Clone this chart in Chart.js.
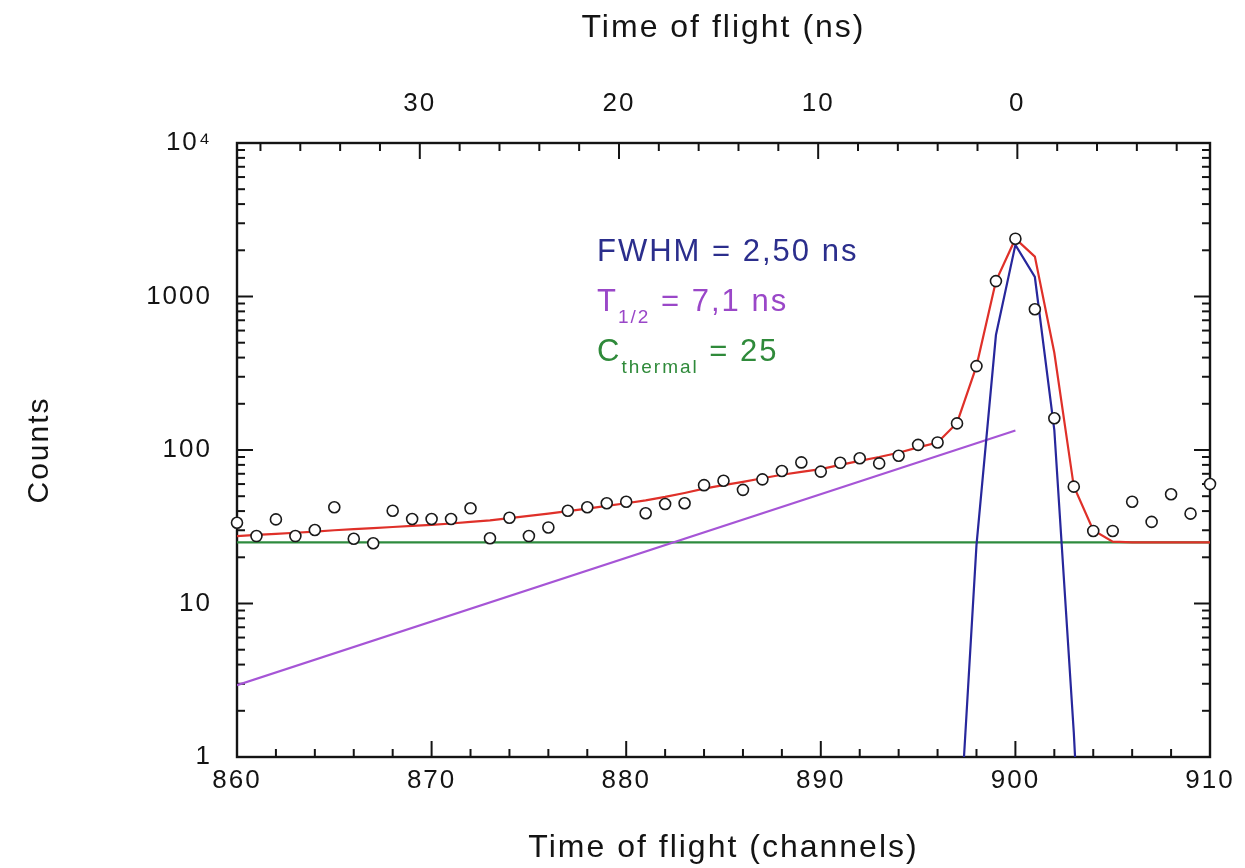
<!DOCTYPE html>
<meta charset="utf8"/>
<style>body{margin:0;background:#fff;}</style>
<canvas id="_c" width="1245" height="868"></canvas>
<script src="https://cdn.jsdelivr.net/npm/chart.js"></script>
<script>
// measured spectrum, one value per channel
const channels = [860,861,862,863,864,865,866,867,868,869,870,871,872,873,874,875,876,877,878,879,880,881,882,883,884,885,886,887,888,889,890,891,892,893,894,895,896,897,898,899,900,901,902,903,904,905,906,907,908,909,910];
const counts = [33.6,27.5,35.3,27.5,30.1,42.4,26.4,24.7,40.2,35.5,35.5,35.5,41.7,26.6,36.2,27.5,31.3,40.2,42.4,45,46,38.7,44.5,45,59,63,55,64.4,73,83,72.3,82.5,88.3,81.8,91.8,108,112,149,352,1260,2380,826,161,57.7,29.7,29.7,46,34,51.5,38.5,60];

// total fit (red), same channels
const fitCounts = [27.5,28,28.4,28.9,29.4,30,30.5,31,31.5,32,32.5,33.2,34,34.8,36,37.2,38.5,40,41.5,43.2,45,47,49.5,52.5,56,59,62,65.5,69,72,75,80,85,90,96,104,112,150,352,1260,2380,1820,430,58,30,25.3,25,25,25,25,25];

// prompt peak (blue)
const gaussChannels = [897,898,899,900,901,902,903,904];
const gaussCounts = [0.17,24,561,2170,1340,135,1.45,0.005];

// delayed exponential component (purple)
const decayChannels = [860,900];
const decayCounts = [2.94,134];

// thermal background (green)
const thermalChannels = [860,910];
const thermalCounts = [25,25];

// axes
const xTicks = [860,870,880,890,900,910];
const nsTicks = [30,20,10,0];
const yTicks = [1,10,100,1000,10000];
const yTickLabels = ['1','10','100','1000','10⁴'];

// channel -> ns calibration of the top axis
const nsPerChannel = 0.977;
const zeroChannel = 900.1;

const FONT = '"Liberation Sans", Arial, Helvetica, sans-serif';
const INK = '#141414';
const TRACK = '2px';
Chart.defaults.font.family = FONT;
Chart.defaults.color = INK;

const pts = (xs, ys) => xs.map((x, i) => ({x, y: ys[i]}));

// wider tracking like the original plot program
const spacing = {
	id: 'spacing',
	beforeUpdate(chart) { chart.ctx.letterSpacing = TRACK; },
	beforeDraw(chart) { chart.ctx.letterSpacing = TRACK; },
};

// frame with inward ticks on all four sides
const frameTicks = {
	id: 'frameTicks',
	beforeDatasetsDraw(chart) {
		const {ctx, chartArea: a, scales: {x, x2, y}} = chart;
		ctx.save();
		ctx.strokeStyle = INK;
		ctx.lineWidth = 2;
		const line = (x0, y0, x1, y1) => { ctx.beginPath(); ctx.moveTo(x0, y0); ctx.lineTo(x1, y1); ctx.stroke(); };
		const BIG = 16, SMALL = 8;
		for (let c = x.min; c <= x.max; c += 2) {
			const px = x.getPixelForValue(c);
			line(px, a.bottom, px, a.bottom - (c % 10 ? SMALL : BIG));
		}
		for (let t = Math.ceil(x2.min / 2) * 2; t <= x2.max; t += 2) {
			const px = x2.getPixelForValue(t);
			line(px, a.top, px, a.top + (t % 10 ? SMALL : BIG));
		}
		for (let d = 1; d < 1e4; d *= 10) {
			for (let m = 1; m < 10; m++) {
				const py = y.getPixelForValue(d * m);
				const len = m === 1 ? BIG : SMALL;
				line(a.left, py, a.left + len, py);
				line(a.right, py, a.right - len, py);
			}
		}
		ctx.lineWidth = 2.4;
		ctx.strokeRect(a.left, a.top, a.right - a.left, a.bottom - a.top);
		ctx.restore();
	}
};

// fit parameters written inside the plot
const notes = {
	id: 'notes',
	afterDraw(chart) {
		const {ctx, scales: {x, y}} = chart;
		const left = x.getPixelForValue(878.5);
		const rows = [
			{y: 1700, color: '#2b2e8c', parts: [['FWHM = 2,50 ns']]},
			{y: 805, color: '#9a47c8', parts: [['T'], ['1/2', 1], [' = 7,1 ns']]},
			{y: 380, color: '#2f8a3a', parts: [['C'], ['thermal', 1], [' = 25']]},
		];
		ctx.save();
		ctx.letterSpacing = TRACK;
		ctx.textBaseline = 'alphabetic';
		for (const r of rows) {
			let px = left;
			const base = y.getPixelForValue(r.y);
			ctx.fillStyle = r.color;
			for (const [txt, sub] of r.parts) {
				ctx.font = (sub ? 19 : 31) + 'px ' + FONT;
				ctx.fillText(txt, px, base + (sub ? 12 : 0));
				px += ctx.measureText(txt).width;
			}
		}
		ctx.restore();
	}
};

new Chart(_c, {
	type: 'scatter',
	data: {
		datasets: [
			{
				data: pts(channels, counts),
				pointRadius: 5.5,
				pointBorderWidth: 1.6,
				pointBackgroundColor: '#fff',
				pointBorderColor: '#1a1a1a',
				clip: false,
				order: 0,
			},
			{
				data: pts(channels, fitCounts),
				showLine: true,
				borderColor: '#df3029',
				borderWidth: 2.2,
				pointRadius: 0,
				order: 1,
			},
			{
				data: pts(gaussChannels, gaussCounts),
				showLine: true,
				borderColor: '#27279c',
				borderWidth: 2.2,
				pointRadius: 0,
				order: 2,
			},
			{
				data: pts(decayChannels, decayCounts),
				showLine: true,
				borderColor: '#a655d6',
				borderWidth: 2.2,
				pointRadius: 0,
				order: 3,
			},
			{
				data: pts(thermalChannels, thermalCounts),
				showLine: true,
				borderColor: '#2e8b3e',
				borderWidth: 2.2,
				pointRadius: 0,
				order: 4,
			},
		]
	},
	options: {
		responsive: false,
		animation: false,
		layout: {padding: {left: 0, right: 35, top: 0, bottom: 0}},
		plugins: {legend: {display: false}, tooltip: {enabled: false}},
		scales: {
			x: {
				type: 'linear',
				position: 'bottom',
				min: 860,
				max: 910,
				grid: {display: false, drawTicks: false},
				border: {display: false},
				afterBuildTicks: s => { s.ticks = xTicks.map(v => ({value: v})); },
				afterFit: s => { s.height = 111; },
				ticks: {padding: 8, maxRotation: 0, font: {size: 26}},
				title: {display: true, text: 'Time of flight (channels)', font: {size: 32}, padding: {top: 0, bottom: 1}},
			},
			x2: {
				type: 'linear',
				position: 'top',
				reverse: true,
				min: (zeroChannel - 910) * nsPerChannel,
				max: (zeroChannel - 860) * nsPerChannel,
				grid: {display: false, drawTicks: false},
				border: {display: false},
				afterBuildTicks: s => { s.ticks = nsTicks.map(v => ({value: v})); },
				afterFit: s => { s.height = 143; },
				ticks: {padding: 24, maxRotation: 0, font: {size: 26}},
				title: {display: true, text: 'Time of flight (ns)', font: {size: 32}, padding: {top: 9, bottom: 0}},
			},
			y: {
				type: 'logarithmic',
				min: 1,
				max: 10000,
				grid: {display: false, drawTicks: false},
				border: {display: false},
				afterBuildTicks: s => { s.ticks = yTicks.map(v => ({value: v})); },
				afterFit: s => { s.width = 237; },
				ticks: {padding: 25, font: {size: 26}, callback: v => yTickLabels[yTicks.indexOf(v)]},
				title: {display: true, text: 'Counts', font: {size: 30}, padding: {top: 22, bottom: 0}},
			},
		}
	},
	plugins: [spacing, frameTicks, notes]
});
</script>
